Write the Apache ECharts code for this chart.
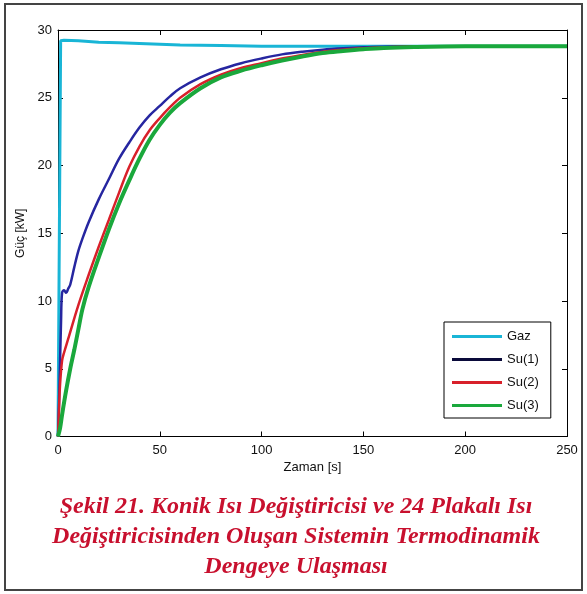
<!DOCTYPE html>
<html>
<head>
<meta charset="utf-8">
<script src="https://cdn.jsdelivr.net/npm/echarts@6/dist/echarts.min.js"></script>
<style>
html,body{margin:0;padding:0;background:#fff;}
#c{width:587px;height:594px;}
</style>
</head>
<body>
<div id="c"></div>
<script>
// ---- data ----
var seriesNames = ['Gaz', 'Su(1)', 'Su(2)', 'Su(3)'];
var xTicks = [0, 50, 100, 150, 200, 250];
var yTicks = [0, 5, 10, 15, 20, 25, 30];

var gazT = [0, 1.3, 3, 10, 20, 30, 40, 50, 60, 80, 100, 150, 200, 250];
var gazP = [0, 29.2, 29.25, 29.2, 29.1, 29.05, 29.0, 28.95, 28.9, 28.85, 28.8, 28.8, 28.8, 28.8];

var su1T = [0, 0.5, 1, 1.5, 2, 3, 4, 5, 6, 8, 10, 12, 15, 20, 25, 30, 35, 40, 45, 50, 55, 60, 70, 80, 90, 100, 110, 120, 130, 140, 150, 170, 200, 250];
var su1P = [0, 2.5, 5.5, 8.5, 10.6, 10.8, 10.6, 10.9, 11.2, 12.5, 13.7, 14.6, 15.8, 17.5, 19.0, 20.5, 21.7, 22.8, 23.7, 24.4, 25.1, 25.7, 26.5, 27.1, 27.55, 27.9, 28.2, 28.4, 28.55, 28.65, 28.72, 28.8, 28.8, 28.8];

var su2T = [0, 0.5, 1, 2, 3, 5, 10, 15, 20, 25, 30, 35, 40, 45, 50, 55, 60, 70, 80, 90, 100, 110, 120, 130, 140, 150, 160, 180, 250];
var su2P = [0, 2.0, 3.8, 5.6, 6.2, 7.2, 9.7, 11.9, 14.0, 16.0, 18.0, 19.9, 21.4, 22.6, 23.5, 24.3, 25.0, 26.0, 26.7, 27.2, 27.55, 27.9, 28.15, 28.4, 28.55, 28.65, 28.72, 28.8, 28.8];

var su3T = [0, 1, 2, 4, 6, 8, 10, 12, 15, 20, 25, 30, 35, 40, 45, 50, 55, 60, 70, 80, 90, 100, 110, 120, 130, 140, 150, 160, 175, 200, 250];
var su3P = [0, 0.6, 1.6, 3.4, 5.0, 6.4, 7.9, 9.4, 11.0, 13.2, 15.3, 17.2, 18.9, 20.5, 21.9, 23.0, 23.9, 24.6, 25.7, 26.5, 27.0, 27.4, 27.75, 28.05, 28.3, 28.45, 28.58, 28.68, 28.75, 28.8, 28.8];

var captionLines = [
  'Şekil 21. Konik Isı Değiştiricisi ve 24 Plakalı Isı',
  'Değiştiricisinden Oluşan Sistemin Termodinamik',
  'Dengeye Ulaşması'
];

function zip(t, p) { return t.map(function (v, i) { return [v, p[i]]; }); }

var colors = ['#19b5d6', '#2626a0', '#d8202a', '#1aa83c'];
var legendColors = ['#19b5d6', '#0a0a3a', '#d8202a', '#1aa83c'];
var widths = [3, 2.5, 2.5, 4];
var smoothing = [false, 0.35, 0.35, 0.35];
var datas = [zip(gazT, gazP), zip(su1T, su1P), zip(su2T, su2P), zip(su3T, su3P)];

var font = 'Liberation Sans, Arial, sans-serif';

var chart = echarts.init(document.getElementById('c'), null, {renderer: 'canvas'});

var axisCommon = {
  type: 'value',
  splitLine: {show: false},
  axisLine: {show: true, onZero: false, lineStyle: {color: '#000', width: 1}},
  axisTick: {show: true, inside: true, length: 5, lineStyle: {color: '#000'}}
};

chart.setOption({
  animation: false,
  backgroundColor: '#fff',
  grid: {left: 58, right: 20, top: 30, bottom: 157.5, show: false},
  xAxis: [
    Object.assign({}, axisCommon, {
      min: 0, max: 250, interval: 50, position: 'bottom',
      name: 'Zaman [s]', nameLocation: 'middle', nameGap: 22,
      nameTextStyle: {fontFamily: font, fontSize: 13, color: '#111'},
      axisLabel: {fontFamily: font, fontSize: 13, color: '#111', margin: 7,
        formatter: function (v) { return xTicks.indexOf(v) >= 0 ? String(v) : ''; }}
    }),
    Object.assign({}, axisCommon, {
      min: 0, max: 250, interval: 50, position: 'top', axisLabel: {show: false}
    })
  ],
  yAxis: [
    Object.assign({}, axisCommon, {
      min: 0, max: 30, interval: 5, position: 'left',
      name: 'Güç [kW]', nameLocation: 'middle', nameGap: 29, nameRotate: 90,
      nameTextStyle: {fontFamily: font, fontSize: 12, color: '#111'},
      axisLabel: {fontFamily: font, fontSize: 13, color: '#111', margin: 6,
        formatter: function (v) { return yTicks.indexOf(v) >= 0 ? String(v) : ''; }}
    }),
    Object.assign({}, axisCommon, {
      min: 0, max: 30, interval: 5, position: 'right', axisLabel: {show: false}
    })
  ],
  legend: {
    orient: 'vertical',
    left: 444, top: 322,
    padding: [8, 12, 6, 8],
    itemGap: 10,
    itemWidth: 50, itemHeight: 13,
    backgroundColor: '#fff',
    borderColor: '#000', borderWidth: 1,
    textStyle: {fontFamily: font, fontSize: 13, color: '#111'},
    data: seriesNames.map(function (n, i) {
      return {name: n, icon: 'path://M0,0 L50,0 L50,3 L0,3 Z', itemStyle: {color: legendColors[i]}};
    })
  },
  series: seriesNames.map(function (n, i) {
    return {
      name: n, type: 'line', data: datas[i],
      xAxisIndex: 0, yAxisIndex: 0,
      showSymbol: false, symbol: 'none',
      smooth: smoothing[i],
      clip: true,
      lineStyle: {color: colors[i], width: widths[i]},
      itemStyle: {color: colors[i]},
      z: 2 + i
    };
  }),
  graphic: [
    {type: 'rect', shape: {x: 5, y: 4, width: 577, height: 586}, style: {fill: 'none', stroke: '#444', lineWidth: 2}, z: 100, silent: true},
    {type: 'text', x: 296, y: 492,
      style: {text: captionLines.join('\n'), fill: '#c8102e', font: 'italic bold 24px "Liberation Serif", "Times New Roman", serif', textAlign: 'center', lineHeight: 30}}
  ]
});
</script>
</body>
</html>
